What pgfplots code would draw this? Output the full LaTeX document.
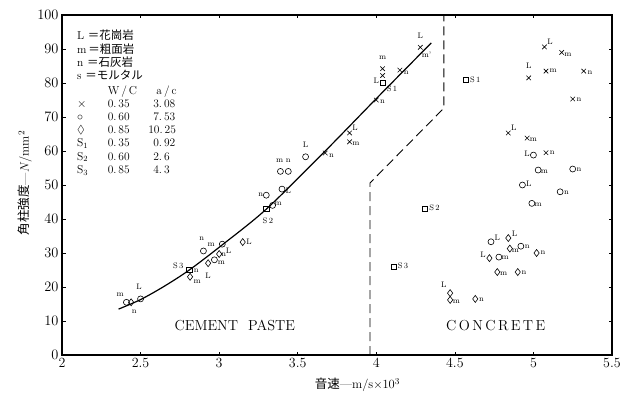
\documentclass[border=0pt]{standalone}
\usepackage{amssymb}
\usepackage{fontspec}
\usepackage{pgfplots}
\pgfplotsset{compat=1.18}
\newfontfamily\cjk{Noto Sans CJK JP}
\tikzset{
  lab/.style={font=\fontsize{8}{8}\selectfont, inner sep=0.5pt},
  leg/.style={font=\fontsize{11.5}{11.5}\selectfont, inner sep=0pt, anchor=base west},
}
\begin{document}
\begin{tikzpicture}[x=1pt,y=1pt]
\path[use as bounding box] (-62,-44) rectangle (569,355);
\begin{axis}[
  at={(0,0)}, anchor=south west,
  scale only axis, width=550pt, height=340pt,
  xmin=2, xmax=5.5, ymin=0, ymax=100,
  xtick={2,2.5,3,3.5,4,4.5,5,5.5},
  xticklabels={2,2.5,3,3.5,4,4.5,5,5.5},
  ytick={0,10,...,100},
  tick align=inside, major tick length=3.5pt,
  tick style={black, line width=0.6pt},
  axis line style={black, line width=1.2pt},
  ticklabel style={font=\fontsize{14}{14}\selectfont},
  clip=false,
]
% regression curve (cement paste)
\addplot[black, smooth, line width=1.2pt] coordinates {
 (2.36,13.5) (2.5,16.3) (2.65,20.2) (2.81,25) (3.02,32.4) (3.30,42.9) (3.675,60) (4.0,75.4) (4.35,91.8)};
% boundary
\addplot[black, line width=0.9pt, dash pattern=on 9pt off 5pt] coordinates {
 (3.96,0) (3.96,50.6) (4.43,72.6) (4.43,100)};
% W/C 0.35 crosses
\addplot[black, only marks, mark=x, mark size=3.2pt, line width=0.6pt] coordinates {
 (3.675,59.4) (3.83,65.3) (3.83,62.7) (4.0,75) (4.04,84.2) (4.04,82.2) (4.15,83.8) (4.28,90.5)
 (4.97,81.5) (5.07,90.6) (5.18,89) (5.08,83.5) (5.32,83.5) (5.25,75.3) (4.84,65.3) (4.96,63.8) (5.08,59.5)};
% W/C 0.60 circles
\addplot[black, only marks, mark=o, mark size=3pt, line width=0.6pt] coordinates {
 (2.41,15.5) (2.50,16.5) (2.90,30.6) (2.97,28) (3.02,32.6) (3.30,47) (3.34,44) (3.40,48.8)
 (3.39,54) (3.44,54) (3.55,58.3)
 (5.0,58.8) (5.03,54.4) (5.25,54.7) (4.93,50) (5.17,48) (4.99,44.6) (4.73,33.3) (4.92,32) (4.78,28.8)};
% W/C 0.85 diamonds
\addplot[black, only marks, mark=diamond, mark size=3.5pt, line width=0.6pt] coordinates {
 (2.44,15.5) (2.815,23) (2.93,27) (3.0,29.7) (3.15,33.2)
 (4.84,34.4) (4.85,31.3) (5.02,30) (4.72,28.5) (4.77,24.4) (4.90,24.4) (4.47,18.2) (4.47,16.2) (4.63,16.5)};
% mortar squares
\addplot[black, only marks, mark=square, mark size=2.7pt, line width=0.7pt] coordinates {
 (2.81,25) (3.30,43) (4.04,80) (4.57,80.9) (4.31,43) (4.11,26)};
% ---- point labels: cement paste
\node[lab] at (axis cs:2.37,17.8) {m};
\node[lab] at (axis cs:2.46,12.8) {n};
\node[lab] at (axis cs:2.49,20.2) {L};
\node[lab] at (axis cs:2.74,26.2) {S\,3};
\node[lab] at (axis cs:2.855,24.8) {n};
\node[lab] at (axis cs:2.86,21.6) {m};
\node[lab] at (axis cs:2.93,23.2) {L};
\node[lab] at (axis cs:3.015,27) {m};
\node[lab] at (axis cs:3.03,29.6) {n};
\node[lab] at (axis cs:2.89,34.2) {n};
\node[lab] at (axis cs:2.95,32.4) {m};
\node[lab] at (axis cs:3.06,30.8) {L};
\node[lab] at (axis cs:3.19,33.3) {L};
\node[lab] at (axis cs:3.265,47) {n};
\node[lab] at (axis cs:3.31,39.6) {S\,2};
\node[lab] at (axis cs:3.375,44.4) {m};
\node[lab] at (axis cs:3.44,48.2) {L};
\node[lab] at (axis cs:3.385,57.2) {m};
\node[lab] at (axis cs:3.44,57.2) {n};
\node[lab] at (axis cs:3.55,61.8) {L};
\node[lab] at (axis cs:3.715,58.6) {n};
\node[lab] at (axis cs:3.865,66.8) {L};
\node[lab] at (axis cs:3.87,62.2) {m};
\node[lab] at (axis cs:4.04,74.4) {n};
\node[lab] at (axis cs:4.04,87.4) {m};
\node[lab] at (axis cs:4.0,80.8) {L};
\node[lab] at (axis cs:4.1,78.4) {S\,1};
\node[lab] at (axis cs:4.19,83) {n};
\node[lab] at (axis cs:4.28,94) {L};
\node[lab] at (axis cs:4.32,88.2) {m'};
% ---- point labels: concrete
\node[lab] at (axis cs:4.63,80.9) {S\,1};
\node[lab] at (axis cs:4.97,85) {L};
\node[lab] at (axis cs:5.105,92.2) {L};
\node[lab] at (axis cs:5.22,88.4) {m};
\node[lab] at (axis cs:5.125,83.5) {m};
\node[lab] at (axis cs:5.36,83.1) {n};
\node[lab] at (axis cs:5.29,75) {n};
\node[lab] at (axis cs:4.875,66.8) {L};
\node[lab] at (axis cs:5.0,63.4) {m};
\node[lab] at (axis cs:5.12,59.4) {n};
\node[lab] at (axis cs:4.96,59.2) {L};
\node[lab] at (axis cs:5.07,54) {m};
\node[lab] at (axis cs:5.29,54.4) {n};
\node[lab] at (axis cs:4.97,50.4) {L};
\node[lab] at (axis cs:5.21,47.6) {n};
\node[lab] at (axis cs:5.03,44.3) {m};
\node[lab] at (axis cs:4.37,43.4) {S\,2};
\node[lab] at (axis cs:4.77,34.6) {L};
\node[lab] at (axis cs:4.88,35.8) {L};
\node[lab] at (axis cs:4.885,30.8) {m};
\node[lab] at (axis cs:4.96,31.9) {n};
\node[lab] at (axis cs:5.06,30) {n};
\node[lab] at (axis cs:4.68,29.6) {L};
\node[lab] at (axis cs:4.82,28.6) {m};
\node[lab] at (axis cs:4.81,24) {m};
\node[lab] at (axis cs:4.94,24.1) {n};
\node[lab] at (axis cs:4.17,26.3) {S\,3};
\node[lab] at (axis cs:4.43,20.6) {L};
\node[lab] at (axis cs:4.51,15.6) {m};
\node[lab] at (axis cs:4.67,16.4) {n};
% ---- region names
\node[font=\fontsize{14.5}{14.5}\selectfont] at (axis cs:3.10,8.8) {CEMENT\hspace{10pt}PASTE};
\node[font=\fontsize{14.5}{14.5}\selectfont] at (axis cs:4.76,8.8) {C\,O\,N\,C\,R\,E\,T\,E};
% ---- key text
\node[leg] at (axis cs:2.095,92.7) {L {\cjk ＝花崗岩}};
\node[leg] at (axis cs:2.095,88.8) {m\,{\cjk ＝粗面岩}};
\node[leg] at (axis cs:2.095,84.9) {n {\cjk ＝石灰岩}};
\node[leg] at (axis cs:2.095,81.0) {s {\cjk ＝モルタル}};
\node[leg] at (axis cs:2.29,76.6) {W\,/\,C};
\node[leg] at (axis cs:2.6,76.6) {a\,/\,c};
\node[leg] at (axis cs:2.095,72.9) {$\times$};
\node[leg] at (axis cs:2.095,69.0) {$\circ$};
\node[leg] at (axis cs:2.095,65.1) {$\lozenge$};
\node[leg] at (axis cs:2.095,61.2) {S$_1$};
\node[leg] at (axis cs:2.095,57.3) {S$_2$};
\node[leg] at (axis cs:2.095,53.4) {S$_3$};
\node[leg] at (axis cs:2.29,72.9) {0.\,35};
\node[leg] at (axis cs:2.29,69.0) {0.\,60};
\node[leg] at (axis cs:2.29,65.1) {0.\,85};
\node[leg] at (axis cs:2.29,61.2) {0.\,35};
\node[leg] at (axis cs:2.29,57.3) {0.\,60};
\node[leg] at (axis cs:2.29,53.4) {0.\,85};
\node[leg] at (axis cs:2.58,72.9) {3.\,08};
\node[leg] at (axis cs:2.58,69.0) {7.\,53};
\node[leg] at (axis cs:2.548,65.1) {10.\,25};
\node[leg] at (axis cs:2.58,61.2) {0.\,92};
\node[leg] at (axis cs:2.58,57.3) {2.\,6};
\node[leg] at (axis cs:2.58,53.4) {4.\,3};
% ---- axis titles
\node[font=\fontsize{12.5}{12.5}\selectfont] at (axis cs:3.88,-8.8) {{\cjk 音速}—m/s$\times$10$^3$};
\node[font=\fontsize{12.5}{12.5}\selectfont, rotate=90] at (axis cs:1.764,50.6) {{\cjk 角柱強度}—$N$/mm$^2$};
\end{axis}
\end{tikzpicture}
\end{document}
